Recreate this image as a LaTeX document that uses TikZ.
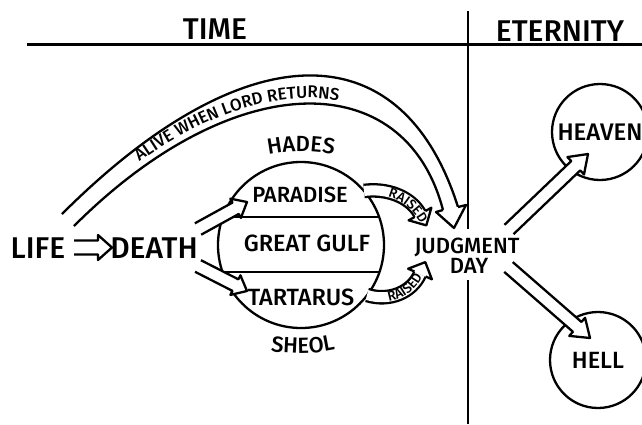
\documentclass[tikz,border=0pt]{standalone}
\usepackage{fontspec}
\setmainfont{Fira Sans}[BoldFont={Fira Sans Medium}]
\usetikzlibrary{calc,decorations.text}
\newcommand{\fsz}[1]{\fontsize{#1}{#1}\selectfont\bfseries}
% straight hollow arrow: tail, tip, shaft half, head half, head length
\newcommand{\harrow}[5]{%
  \coordinate (hb) at ($(#2)!#5!(#1)$);
  \filldraw[fill=white] ($(#1)!#3!90:(#2)$) -- ($(hb)!#3!-90:(#1)$) -- ($(hb)!#4!-90:(#1)$) -- (#2)
     -- ($(hb)!#4!90:(#1)$) -- ($(hb)!#3!90:(#1)$) -- ($(#1)!#3!-90:(#2)$);
}
% curved hollow arrow: p0, p1, p2, p3 (head base), head length, head half
\newcommand{\carrow}[6]{%
  \draw[double, double distance=10pt] (#1) .. controls (#2) and (#3) .. (#4);
  \coordinate (ct) at ($(#4)!-#5!(#3)$);
  \filldraw[fill=white] ($(#4)!6.1pt!90:(ct)$) -- ($(#4)!#6!90:(ct)$) -- (ct) -- ($(#4)!#6!-90:(ct)$) -- ($(#4)!6.1pt!-90:(ct)$);
}
\tikzset{
  lab/.style={inner sep=0pt, anchor=base},
}
\begin{document}
\begin{tikzpicture}[x=1pt,y=-1pt, line width=2.3pt, line join=round]
\useasboundingbox (0,0) rectangle (642,424);
\fill[white] (0,0) rectangle (642,424);

% dividers
\coordinate (hl0) at (27,44); \coordinate (hl1) at (642,44);
\draw[line width=3pt] (hl0) -- (hl1);
\coordinate (v0) at (468,11); \coordinate (v1) at (468,229);
\coordinate (v2) at (468,280); \coordinate (v3) at (468,424);
\draw[line width=2.6pt] (v0) -- (v1);
\draw[line width=2.6pt] (v2) -- (v3);

\node[lab, font=\fsz{30}] (time) at (215,39) {TIME};
\node[lab, font=\fsz{30}] (eternity) at (560,41) {ETERNITY};

% Hades circle
\node[circle, draw, minimum size=166pt, inner sep=0pt] (hades) at (301,245) {};
\coordinate (c1a) at (223,217); \coordinate (c1b) at (379,217);
\coordinate (c2a) at (222.5,272); \coordinate (c2b) at (379.5,272);
\draw (c1a) -- (c1b);
\draw (c2a) -- (c2b);

% Heaven / Hell
\node[circle, draw, minimum size=96pt, inner sep=0pt, font=\fsz{24}] (heaven) at (600,132) {HEAVEN};
\node[circle, draw, minimum size=96pt, inner sep=0pt, font=\fsz{23.5}] (hell) at (598,360) {HELL};

% big arc: alive when lord returns
\coordinate (ao0) at (62,214); \coordinate (ao1) at (242,34); \coordinate (ao2) at (401,27); \coordinate (ao3) at (458,207);
\coordinate (ai0) at (74,226); \coordinate (ai1) at (234,66); \coordinate (ai2) at (405,65); \coordinate (ai3) at (443,210);
\draw (ao0) .. controls (ao1) and (ao2) .. (ao3);
\draw (ai0) .. controls (ai1) and (ai2) .. (ai3);
\coordinate (abl) at (436,212); \coordinate (abr) at (466,205); \coordinate (atip) at (454,228);
\filldraw[fill=white] (ai3) -- (abl) -- (atip) -- (abr) -- (ao3);
\path[decorate, decoration={text along path, text align={left indent=90pt},
   text={|\fsz{17}|ALIVE WHEN LORD RETURNS}}]
   (71,220) .. controls (232,60) and (405,59) .. (448,207);

% Life => Death
\node[lab, font=\fsz{30}] (life) at (38,258) {LIFE};
\node[lab, font=\fsz{30}] (death) at (154,258) {DEATH};
\coordinate (ld0) at (74,247.5); \coordinate (ld1) at (112,247.5);
\harrow{ld0}{ld1}{7pt}{12.5pt}{14pt}

% Death -> Paradise / Tartarus
\coordinate (dp0) at (198,229); \coordinate (dp1) at (247,202);
\harrow{dp0}{dp1}{6.5pt}{11pt}{13pt}
\coordinate (dt0) at (198,266); \coordinate (dt1) at (247,291);
\harrow{dt0}{dt1}{6.5pt}{11pt}{13pt}

% raised arrows
\coordinate (r0) at (364,191); \coordinate (r1) at (386,188); \coordinate (r2) at (410,196); \coordinate (r3) at (420,214);
\carrow{r0}{r1}{r2}{r3}{13pt}{13pt}
\coordinate (s0) at (367,295); \coordinate (s1) at (390,302); \coordinate (s2) at (412,292); \coordinate (s3) at (420,274);
\carrow{s0}{s1}{s2}{s3}{13pt}{13pt}
\path[decorate, decoration={text along path, text align={left indent=26pt},
   text={|\fsz{13.5}|RAISED}}]
   (362,195.5) .. controls (388,192.5) and (410,200) .. (424,230);
\path[decorate, decoration={text along path, text align={left indent=25pt},
   text={|\fsz{13.5}|RAISED}}]
   (364,300) .. controls (392,307) and (417,298) .. (429,262);

% Judgment day -> heaven / hell
\coordinate (jh0) at (509,229.5); \coordinate (jh1) at (588,154);
\harrow{jh0}{jh1}{6.5pt}{12pt}{17pt}
\coordinate (jl0) at (508.5,267); \coordinate (jl1) at (590,338);
\harrow{jl0}{jl1}{6.5pt}{12pt}{17pt}

% labels
\path[decorate, decoration={text along path, text align=center, text={|\fsz{22}|HADES}}]
   (256,158) .. controls (282,149) and (320,149) .. (346,158);
\path[decorate, decoration={text along path, text align=center, text={|\fsz{22}|SHEOL}}]
   (264,350) .. controls (288,355) and (318,355) .. (342,348);
\node[lab, font=\fsz{22}] (paradise) at (300,202) {PARADISE};
\node[lab, font=\fsz{23.5}] (gulf) at (307,251) {GREAT GULF};
\node[lab, font=\fsz{23.5}] (tartarus) at (301,305) {TARTARUS};
\node[lab, font=\fsz{22}] (jd) at (467,253) {JUDGMENT};
\node[lab, font=\fsz{22}] (day) at (469,273) {DAY};
\end{tikzpicture}
\end{document}
